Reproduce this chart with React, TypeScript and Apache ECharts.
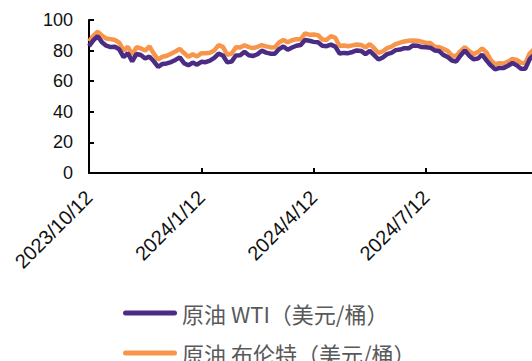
import React, { useEffect, useRef } from "react";
import * as echarts from "echarts";

// Sample dates (roughly twice a week), quarterly ticks fall every 26 samples
const dates = [
  "2023/10/12", "2023/10/16", "2023/10/19", "2023/10/23", "2023/10/26", "2023/10/30",
  "2023/11/2", "2023/11/6", "2023/11/9", "2023/11/13", "2023/11/16", "2023/11/20",
  "2023/11/23", "2023/11/27", "2023/11/30", "2023/12/4", "2023/12/7", "2023/12/11",
  "2023/12/14", "2023/12/18", "2023/12/21", "2023/12/26", "2023/12/28", "2024/1/2",
  "2024/1/4", "2024/1/8",
  "2024/1/12", "2024/1/16", "2024/1/19", "2024/1/22", "2024/1/26", "2024/1/29",
  "2024/2/2", "2024/2/5", "2024/2/9", "2024/2/12", "2024/2/16", "2024/2/20",
  "2024/2/23", "2024/2/26", "2024/3/1", "2024/3/4", "2024/3/8", "2024/3/11",
  "2024/3/15", "2024/3/18", "2024/3/22", "2024/3/25", "2024/3/28", "2024/4/1",
  "2024/4/5", "2024/4/8",
  "2024/4/12", "2024/4/15", "2024/4/19", "2024/4/22", "2024/4/26", "2024/4/29",
  "2024/5/3", "2024/5/6", "2024/5/10", "2024/5/13", "2024/5/17", "2024/5/20",
  "2024/5/24", "2024/5/28", "2024/5/31", "2024/6/3", "2024/6/7", "2024/6/10",
  "2024/6/14", "2024/6/17", "2024/6/21", "2024/6/24", "2024/6/28", "2024/7/1",
  "2024/7/5", "2024/7/8",
  "2024/7/12", "2024/7/15", "2024/7/19", "2024/7/22", "2024/7/26", "2024/7/29",
  "2024/8/2", "2024/8/5", "2024/8/9", "2024/8/12", "2024/8/16", "2024/8/19",
  "2024/8/23", "2024/8/26", "2024/8/30", "2024/9/3", "2024/9/6", "2024/9/9",
  "2024/9/13", "2024/9/16", "2024/9/20", "2024/9/23", "2024/9/27", "2024/9/30",
  "2024/10/4", "2024/10/7",
];

// 原油 WTI（美元/桶）
const wti = [
  82.9, 86.7, 89.4, 85.5, 83.2, 82.3, 82.5, 80.8, 75.7, 78.3, 72.9, 77.8,
  77.1, 74.9, 76.0, 73.0, 69.3, 71.3, 71.6, 72.5, 73.9, 75.6, 71.8, 70.4,
  72.2, 70.8,
  72.7, 72.4, 73.4, 75.2, 78.0, 76.8, 72.3, 72.8, 76.8, 76.9, 79.2, 77.0,
  76.5, 77.6, 80.0, 78.7, 78.0, 77.9, 81.0, 82.7, 80.6, 82.0, 83.2, 83.7,
  86.9, 86.4,
  85.7, 85.4, 83.1, 82.9, 83.9, 82.6, 78.1, 78.5, 78.3, 79.1, 80.1, 79.8,
  77.7, 79.8, 77.0, 74.2, 75.5, 77.7, 78.5, 80.3, 80.7, 81.6, 81.5, 83.4,
  83.2, 82.3,
  82.2, 81.9, 80.1, 79.8, 77.2, 75.8, 73.5, 72.9, 76.8, 80.1, 76.7, 74.4,
  74.8, 77.4, 73.6, 70.3, 67.7, 68.7, 68.7, 70.1, 71.9, 70.4, 68.2, 68.2,
  74.4, 77.1,
];

// 原油 布伦特（美元/桶）
const brent = [
  86.0, 89.7, 92.4, 89.8, 87.9, 87.5, 86.9, 85.2, 80.0, 82.5, 77.4, 82.3,
  81.4, 80.0, 82.8, 78.0, 74.1, 76.0, 76.6, 78.0, 79.4, 81.1, 78.4, 75.9,
  77.6, 76.1,
  78.3, 78.3, 78.6, 80.1, 83.6, 82.4, 77.3, 78.0, 82.2, 82.0, 83.5, 82.3,
  81.6, 82.5, 83.6, 82.8, 82.1, 82.2, 85.3, 86.9, 85.4, 86.8, 87.5, 87.4,
  91.2, 90.4,
  90.5, 90.1, 87.3, 87.0, 89.5, 88.4, 83.0, 83.3, 82.8, 83.4, 84.0, 83.7,
  82.1, 84.2, 81.6, 78.4, 79.6, 81.6, 82.6, 84.3, 85.2, 86.0, 86.4, 86.6,
  86.5, 85.8,
  85.0, 84.9, 82.6, 82.4, 81.1, 79.8, 76.8, 76.3, 79.7, 82.3, 79.7, 77.7,
  79.0, 81.4, 78.8, 73.8, 71.1, 71.8, 71.6, 72.8, 74.5, 73.9, 72.0, 71.8,
  78.1, 80.9,
];

const xTickLabels = ["2023/10/12", "2024/1/12", "2024/4/12", "2024/7/12"];

const yMin = 0;
const yMax = 100;
const yStep = 20;

const seriesNames = ["原油 WTI（美元/桶）", "原油 布伦特（美元/桶）"];
const wtiColor = "#4b2c85";
const brentColor = "#f7964a";

// rounded bar used as the legend swatch
const legendIcon =
  "path://M2.5,0 L51.5,0 A2.5,2.5 0 0 1 51.5,5 L2.5,5 A2.5,2.5 0 0 1 2.5,0 Z";

const isTick = (_: number, value: string) => xTickLabels.includes(value);

// the chart canvas runs a little past the visible frame on the right and bottom
const CHART_W = 540;
const CHART_H = 420;

export default function App() {
  const ref = useRef<HTMLDivElement>(null);

  useEffect(() => {
    if (!ref.current) return;
    const chart = echarts.init(ref.current, null, { renderer: "svg" });
    chart.setOption({
      animation: false,
      grid: { left: 89, right: CHART_W - 534, top: 20, bottom: CHART_H - 173 },
      legend: {
        orient: "vertical",
        left: 118,
        top: 297,
        itemWidth: 54,
        itemHeight: 5,
        itemGap: 18,
        icon: legendIcon,
        data: seriesNames,
        textStyle: {
          fontSize: 22,
          lineHeight: 22,
          fontFamily: "Noto Sans CJK SC",
          color: "#595959",
        },
      },
      xAxis: {
        type: "category",
        data: dates,
        boundaryGap: false,
        axisLine: { lineStyle: { color: "#000", width: 2 } },
        axisTick: {
          inside: true,
          length: 5,
          interval: isTick,
          lineStyle: { color: "#000", width: 2 },
        },
        axisLabel: {
          interval: isTick,
          rotate: 45,
          margin: 21,
          fontSize: 20,
          fontFamily: "Liberation Sans, Arial, sans-serif",
          color: "#111",
        },
        splitLine: { show: false },
      },
      yAxis: {
        type: "value",
        min: yMin,
        max: yMax,
        interval: yStep,
        axisLine: { show: true, lineStyle: { color: "#000", width: 2 } },
        axisTick: {
          show: true,
          inside: true,
          length: 5,
          lineStyle: { color: "#000", width: 2 },
        },
        axisLabel: {
          fontSize: 18,
          margin: 16,
          fontFamily: "Liberation Sans, Arial, sans-serif",
          color: "#111",
        },
        splitLine: { show: false },
      },
      series: [
        {
          name: seriesNames[1],
          type: "line",
          data: brent,
          symbol: "none",
          lineStyle: { width: 4.5, color: brentColor },
          itemStyle: { color: brentColor },
        },
        {
          name: seriesNames[0],
          type: "line",
          data: wti,
          symbol: "none",
          lineStyle: { width: 4.5, color: wtiColor },
          itemStyle: { color: wtiColor },
        },
      ],
    });
    return () => chart.dispose();
  }, []);

  return (
    <div
      style={{
        position: "absolute",
        left: 0,
        top: 0,
        width: 532,
        height: 361,
        overflow: "hidden",
        background: "#fff",
      }}
    >
      <div ref={ref} style={{ width: CHART_W, height: CHART_H }} />
    </div>
  );
}
